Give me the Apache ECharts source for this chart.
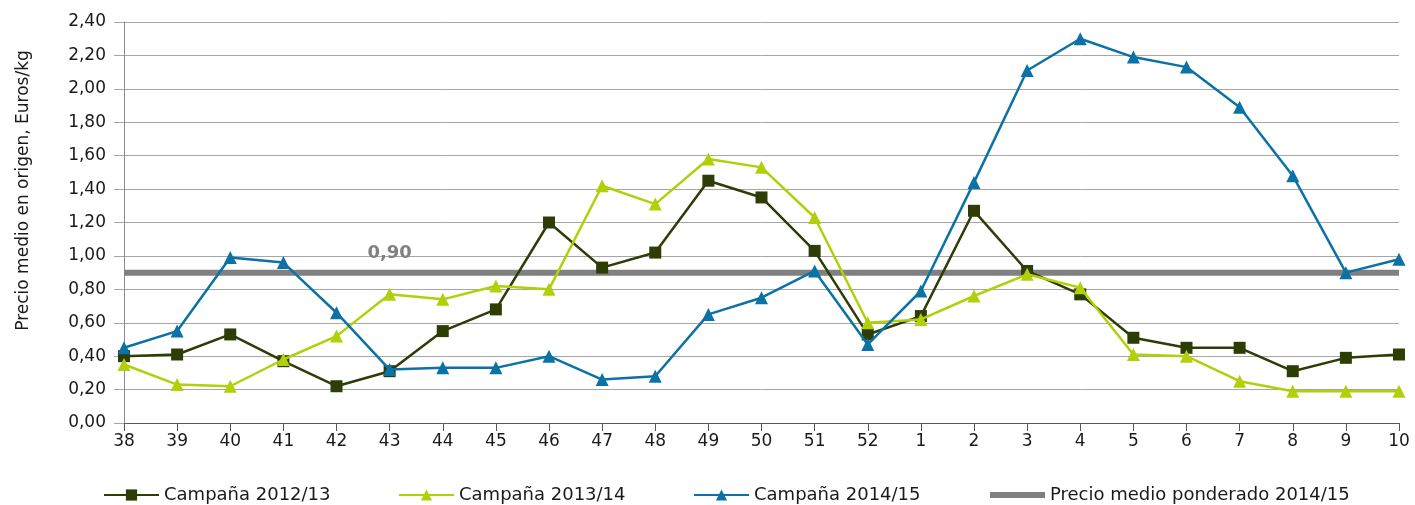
<!DOCTYPE html>
<html>
<head>
<meta charset="utf-8">
<script src="https://cdn.jsdelivr.net/npm/echarts@6/dist/echarts.min.js"></script>
<style>
  html, body { margin: 0; padding: 0; background: #fff; }
  #chart { width: 1415px; height: 505px; }
</style>
</head>
<body>
<div id="chart"></div>
<script>
// semanas de la campaña
var weeks = ['38','39','40','41','42','43','44','45','46','47','48','49','50','51','52','1','2','3','4','5','6','7','8','9','10'];
// precios (Euros/kg)
var camp1213 = [0.40,0.41,0.53,0.37,0.22,0.31,0.55,0.68,1.20,0.93,1.02,1.45,1.35,1.03,0.53,0.64,1.27,0.91,0.77,0.51,0.45,0.45,0.31,0.39,0.41];
var camp1314 = [0.35,0.23,0.22,0.38,0.52,0.77,0.74,0.82,0.80,1.42,1.31,1.58,1.53,1.23,0.60,0.62,0.76,0.89,0.81,0.41,0.40,0.25,0.19,0.19,0.19];
var camp1415 = [0.45,0.55,0.99,0.96,0.66,0.32,0.33,0.33,0.40,0.26,0.28,0.65,0.75,0.91,0.47,0.79,1.44,2.11,2.30,2.19,2.13,1.89,1.48,0.90,0.98];
var precioMedio = 0.90;
var labelWeek = '43'; // donde va la etiqueta 0,90

var names = ['Campaña 2012/13', 'Campaña 2013/14', 'Campaña 2014/15', 'Precio medio ponderado 2014/15'];
var colors = ['#2e3d05', '#b3cf09', '#0b72a6', '#808080'];

var fmt = function (v) { return v.toFixed(2).replace('.', ','); };
var font = '"DejaVu Sans", sans-serif';

var medioArr = weeks.map(function () { return precioMedio; });

// una leyenda por serie, para colocarlas como en el original
var legendLeft = [98, 393, 688, 985];
var legends = names.map(function (n, i) {
	return {
		data: [n],
		left: legendLeft[i],
		top: 481,
		itemWidth: 55,
		itemHeight: i === 3 ? 6 : 14,
		itemGap: 8,
		icon: i === 3 ? 'rect' : undefined,
		textStyle: { fontSize: 18, color: '#1a1a1a', fontFamily: font }
	};
});

var myChart = echarts.init(document.getElementById('chart'));
var option = {
	animation: false,
	textStyle: { fontFamily: font },
	grid: { left: 124, right: 16, top: 22, bottom: 82 },
	legend: legends,
	xAxis: {
		type: 'category',
		data: weeks,
		boundaryGap: false,
		axisLine: { lineStyle: { color: '#595959', width: 1 } },
		axisTick: { show: true, length: 8, lineStyle: { color: '#595959' } },
		axisLabel: { fontSize: 17, color: '#1a1a1a', margin: 10 },
		splitLine: { show: false }
	},
	yAxis: {
		type: 'value',
		min: 0,
		max: 2.4,
		interval: 0.2,
		name: 'Precio medio en origen, Euros/kg',
		nameLocation: 'middle',
		nameGap: 92,
		nameTextStyle: { fontSize: 17, color: '#1a1a1a', padding: [0, 0, 0, 64] },
		axisLine: { show: true, lineStyle: { color: '#8c8c8c' } },
		axisTick: { show: true, length: 10, lineStyle: { color: '#a6a6a6' } },
		axisLabel: { fontSize: 17, color: '#1a1a1a', margin: 18, formatter: fmt },
		splitLine: { lineStyle: { color: '#a6a6a6', width: 1 } }
	},
	series: [
		{
			name: names[3],
			type: 'line',
			data: medioArr,
			symbol: 'none',
			z: 1,
			lineStyle: { color: colors[3], width: 6 },
			itemStyle: { color: colors[3] },
			markPoint: {
				symbol: 'circle',
				symbolSize: 0,
				silent: true,
				label: {
					show: true,
					position: 'top',
					distance: 10,
					fontSize: 18,
					fontWeight: 'bold',
					color: '#808080',
					formatter: function (p) { return fmt(p.value); }
				},
				data: [{ coord: [labelWeek, precioMedio], value: precioMedio }]
			}
		},
		{
			name: names[0],
			type: 'line',
			data: camp1213,
			symbol: 'rect',
			symbolSize: 12,
			z: 3,
			lineStyle: { color: colors[0], width: 2.5 },
			itemStyle: { color: colors[0] }
		},
		{
			name: names[1],
			type: 'line',
			data: camp1314,
			symbol: 'triangle',
			symbolSize: 13,
			z: 4,
			lineStyle: { color: colors[1], width: 2.5 },
			itemStyle: { color: colors[1] }
		},
		{
			name: names[2],
			type: 'line',
			data: camp1415,
			symbol: 'triangle',
			symbolSize: 13,
			z: 5,
			lineStyle: { color: colors[2], width: 2.5 },
			itemStyle: { color: colors[2] }
		}
	]
};
myChart.setOption(option);
</script>
</body>
</html>
